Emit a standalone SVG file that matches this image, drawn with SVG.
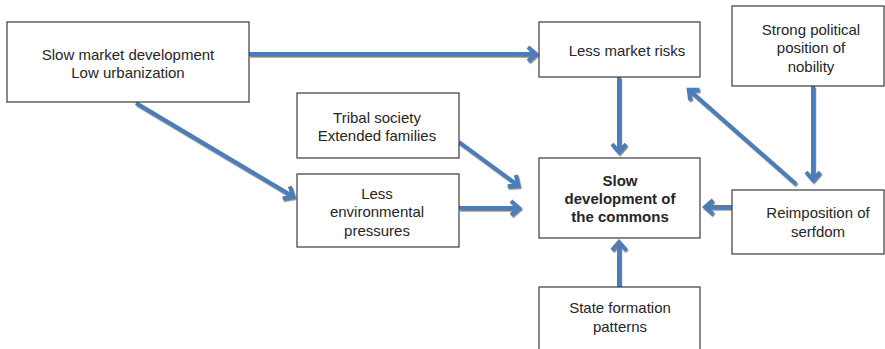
<svg xmlns="http://www.w3.org/2000/svg" width="885" height="349" viewBox="0 0 885 349">
<style>
.box{fill:#fff;stroke:#3a3a3a;stroke-width:1.2}
.t{font-family:"Liberation Sans",Arial,sans-serif;font-size:15px;fill:#262626;text-anchor:middle}
.b{font-weight:bold}
.c{fill:none;stroke:#4a7ebb;stroke-width:4;marker-end:url(#ah)}
</style>
<defs>
<marker id="ah" markerUnits="userSpaceOnUse" viewBox="-14 -10 18 20" refX="0" refY="0" markerWidth="18" markerHeight="20" orient="auto" overflow="visible">
<path d="M-9,-7 L-1,0 L-9,7" fill="none" stroke="#4a7ebb" stroke-width="4" stroke-linejoin="miter"/>
</marker>
<filter id="sh" x="-10%" y="-10%" width="120%" height="120%">
<feDropShadow dx="1.2" dy="1.6" stdDeviation="0.4" flood-color="#808080" flood-opacity="1"/>
</filter>
</defs>
<rect width="885" height="349" fill="#fff"/>
<g id="connectors" filter="url(#sh)">
<path class="c" d="M249,54 L537,54"/>
<path class="c" d="M136,103 L294,197"/>
<path class="c" d="M459,142 L519,186"/>
<path class="c" d="M459,208 L520,208"/>
<path class="c" d="M619,77 L619,153"/>
<path class="c" d="M813,86 L813,181"/>
<path class="c" d="M796,184 L688,89"/>
<path class="c" d="M732,207 L704,207"/>
<path class="c" d="M619,287 L619,241"/>
</g>
<g id="n1"><rect class="box" x="7" y="22" width="242" height="80"/>
<text class="t" x="128" y="60">Slow market development</text>
<text class="t" x="128" y="77.5">Low urbanization</text></g>
<g id="n2"><rect class="box" x="539" y="22" width="161" height="55"/>
<text class="t" x="627" y="56">Less market risks</text></g>
<g id="n3"><rect class="box" x="732" y="6" width="152" height="80"/>
<text class="t" x="811" y="35">Strong political</text>
<text class="t" x="811" y="53.3">position of</text>
<text class="t" x="811" y="71.7">nobility</text></g>
<g id="n4"><rect class="box" x="297" y="93" width="162" height="65"/>
<text class="t" x="377" y="123.3">Tribal society</text>
<text class="t" x="377" y="140.7">Extended families</text></g>
<g id="n5"><rect class="box" x="297" y="174" width="162" height="73"/>
<text class="t" x="377" y="199">Less</text>
<text class="t" x="377" y="217.3">environmental</text>
<text class="t" x="377" y="235.7">pressures</text></g>
<g id="n6"><rect class="box" x="539" y="158" width="161" height="80"/>
<text class="t b" x="620" y="185.7">Slow</text>
<text class="t b" x="620" y="204">development of</text>
<text class="t b" x="620" y="221.7">the commons</text></g>
<g id="n7"><rect class="box" x="732" y="190" width="152" height="64"/>
<text class="t" x="818" y="218.3">Reimposition of</text>
<text class="t" x="818" y="236.7">serfdom</text></g>
<g id="n8"><rect class="box" x="539" y="287" width="161" height="80"/>
<text class="t" x="620" y="313.3">State formation</text>
<text class="t" x="620" y="331.7">patterns</text></g>
</svg>
